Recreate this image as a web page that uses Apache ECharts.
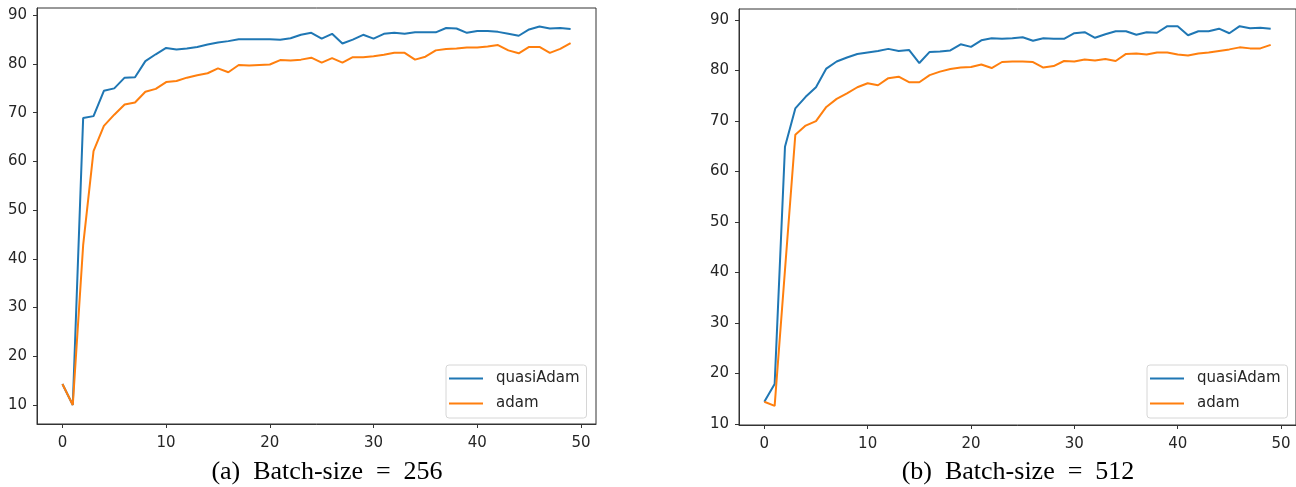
<!DOCTYPE html>
<html>
<head>
<meta charset="utf-8">
<script src="https://cdn.jsdelivr.net/npm/echarts@6.0.0/dist/echarts.min.js"></script>
<style>
  html, body { margin: 0; padding: 0; background: #fff; }
  #chart { width: 1296px; height: 487px; }
</style>
</head>
<body>
<div id="chart"></div>
<script>
// epochs on the x axis
var epochs = [0,1,2,3,4,5,6,7,8,9,10,11,12,13,14,15,16,17,18,19,20,21,22,23,24,
  25,26,27,28,29,30,31,32,33,34,35,36,37,38,39,40,41,42,43,44,45,46,47,48,49];

// (a) batch-size 256
var quasiAdam256 = [14.3,10.0,68.9,69.3,74.5,75.0,77.2,77.3,80.6,82.0,83.3,83.0,83.2,83.5,84.0,84.4,84.7,85.1,85.1,85.1,
  85.1,85.0,85.3,86.0,86.4,85.2,86.2,84.2,85.0,86.0,85.2,86.2,86.4,86.2,86.5,86.5,86.5,87.4,87.3,86.4,
  86.8,86.8,86.6,86.2,85.8,87.1,87.7,87.3,87.4,87.2];
var adam256 = [14.3,10.0,42.8,62.1,67.3,69.6,71.7,72.1,74.3,74.9,76.3,76.5,77.2,77.7,78.1,79.1,78.3,79.8,79.7,79.8,
  79.9,80.8,80.7,80.9,81.3,80.3,81.2,80.3,81.4,81.4,81.6,81.9,82.3,82.3,80.9,81.5,82.8,83.1,83.2,83.4,
  83.4,83.6,83.9,82.8,82.2,83.5,83.5,82.3,83.1,84.3];

// (b) batch-size 512
var quasiAdam512 = [14.4,17.9,64.9,72.5,74.8,76.7,80.4,81.8,82.6,83.3,83.6,83.9,84.3,83.9,84.1,81.5,83.7,83.8,84.0,85.2,
  84.7,86.0,86.4,86.3,86.4,86.6,85.9,86.4,86.3,86.3,87.4,87.6,86.5,87.2,87.8,87.8,87.1,87.6,87.5,88.8,
  88.8,87.0,87.8,87.8,88.3,87.4,88.8,88.4,88.5,88.3];
var adam512 = [14.4,13.6,40.5,67.3,69.1,70.0,72.8,74.4,75.5,76.7,77.5,77.1,78.5,78.8,77.7,77.7,79.1,79.8,80.3,80.6,
  80.7,81.2,80.5,81.7,81.8,81.8,81.7,80.6,80.9,81.9,81.8,82.2,82.0,82.3,81.9,83.3,83.4,83.2,83.6,83.6,
  83.2,83.0,83.4,83.6,83.9,84.2,84.6,84.4,84.4,85.1];

var xTicks = [0,10,20,30,40,50];
var yTicks = [10,20,30,40,50,60,70,80,90];
var seriesNames = ['quasiAdam','adam'];
var captions = ['(a)  Batch-size  =  256','(b)  Batch-size  =  512'];

function pairs(ys) {
  return epochs.map(function (e, i) { return [e, ys[i]]; });
}

var tickFont = { color: '#262626', fontSize: 15, fontFamily: 'DejaVu Sans' };

function xAxisOf(idx) {
  return {
    type: 'value', gridIndex: idx, min: -2.45, max: 51.45,
    splitLine: { show: false },
    axisLine: { show: true, onZero: false, lineStyle: { color: '#333', width: 1 } },
    axisTick: { show: true, length: 4, customValues: xTicks, lineStyle: { color: '#333' } },
    axisLabel: Object.assign({ margin: 12, customValues: xTicks }, tickFont)
  };
}
function yAxisOf(idx, lo, hi) {
  return {
    type: 'value', gridIndex: idx, min: lo, max: hi,
    splitLine: { show: false },
    axisLine: { show: true, onZero: false, lineStyle: { color: '#333', width: 1 } },
    axisTick: { show: true, length: 4, customValues: yTicks, lineStyle: { color: '#333' } },
    axisLabel: Object.assign({ margin: 10, customValues: yTicks }, tickFont)
  };
}
function legendAt(left) {
  return {
    orient: 'vertical', left: left, top: 365,
    data: seriesNames,
    icon: 'rect', itemWidth: 34, itemHeight: 2, itemGap: 10,
    padding: [6, 7, 7, 3],
    borderColor: '#d6d6d6', borderWidth: 1, borderRadius: 3,
    backgroundColor: 'rgba(255,255,255,0.85)',
    textStyle: { color: '#262626', fontSize: 15, fontFamily: 'DejaVu Sans', lineHeight: 14, padding: [0, 0, 0, 8] }
  };
}
function line(name, idx, ys, color) {
  return {
    name: name, type: 'line', xAxisIndex: idx, yAxisIndex: idx,
    data: pairs(ys), showSymbol: false, symbol: 'none', animation: false,
    lineStyle: { color: color, width: 2 }, itemStyle: { color: color }
  };
}

var chart = echarts.init(document.getElementById('chart'));
chart.setOption({
  animation: false,
  grid: [
    { left: 37, top: 8, width: 559, height: 416, show: true, borderColor: '#333', borderWidth: 1 },
    { left: 739, top: 9, width: 561, height: 416, show: true, borderColor: '#333', borderWidth: 1 }
  ],
  xAxis: [xAxisOf(0), xAxisOf(1)],
  yAxis: [yAxisOf(0, 6.1, 91.5), yAxisOf(1, 9.8, 92.2)],
  legend: [legendAt(446), legendAt(1147)],
  series: [
    line(seriesNames[0], 0, quasiAdam256, '#1f77b4'),
    line(seriesNames[1], 0, adam256, '#ff7f0e'),
    line(seriesNames[0], 1, quasiAdam512, '#1f77b4'),
    line(seriesNames[1], 1, adam512, '#ff7f0e')
  ],
  graphic: [
    { type: 'text', x: 327, y: 472, style: { text: captions[0], fill: '#000', font: '26px "Liberation Serif"', textAlign: 'center', textVerticalAlign: 'middle' } },
    { type: 'text', x: 1018, y: 472, style: { text: captions[1], fill: '#000', font: '26px "Liberation Serif"', textAlign: 'center', textVerticalAlign: 'middle' } }
  ]
});
</script>
</body>
</html>
